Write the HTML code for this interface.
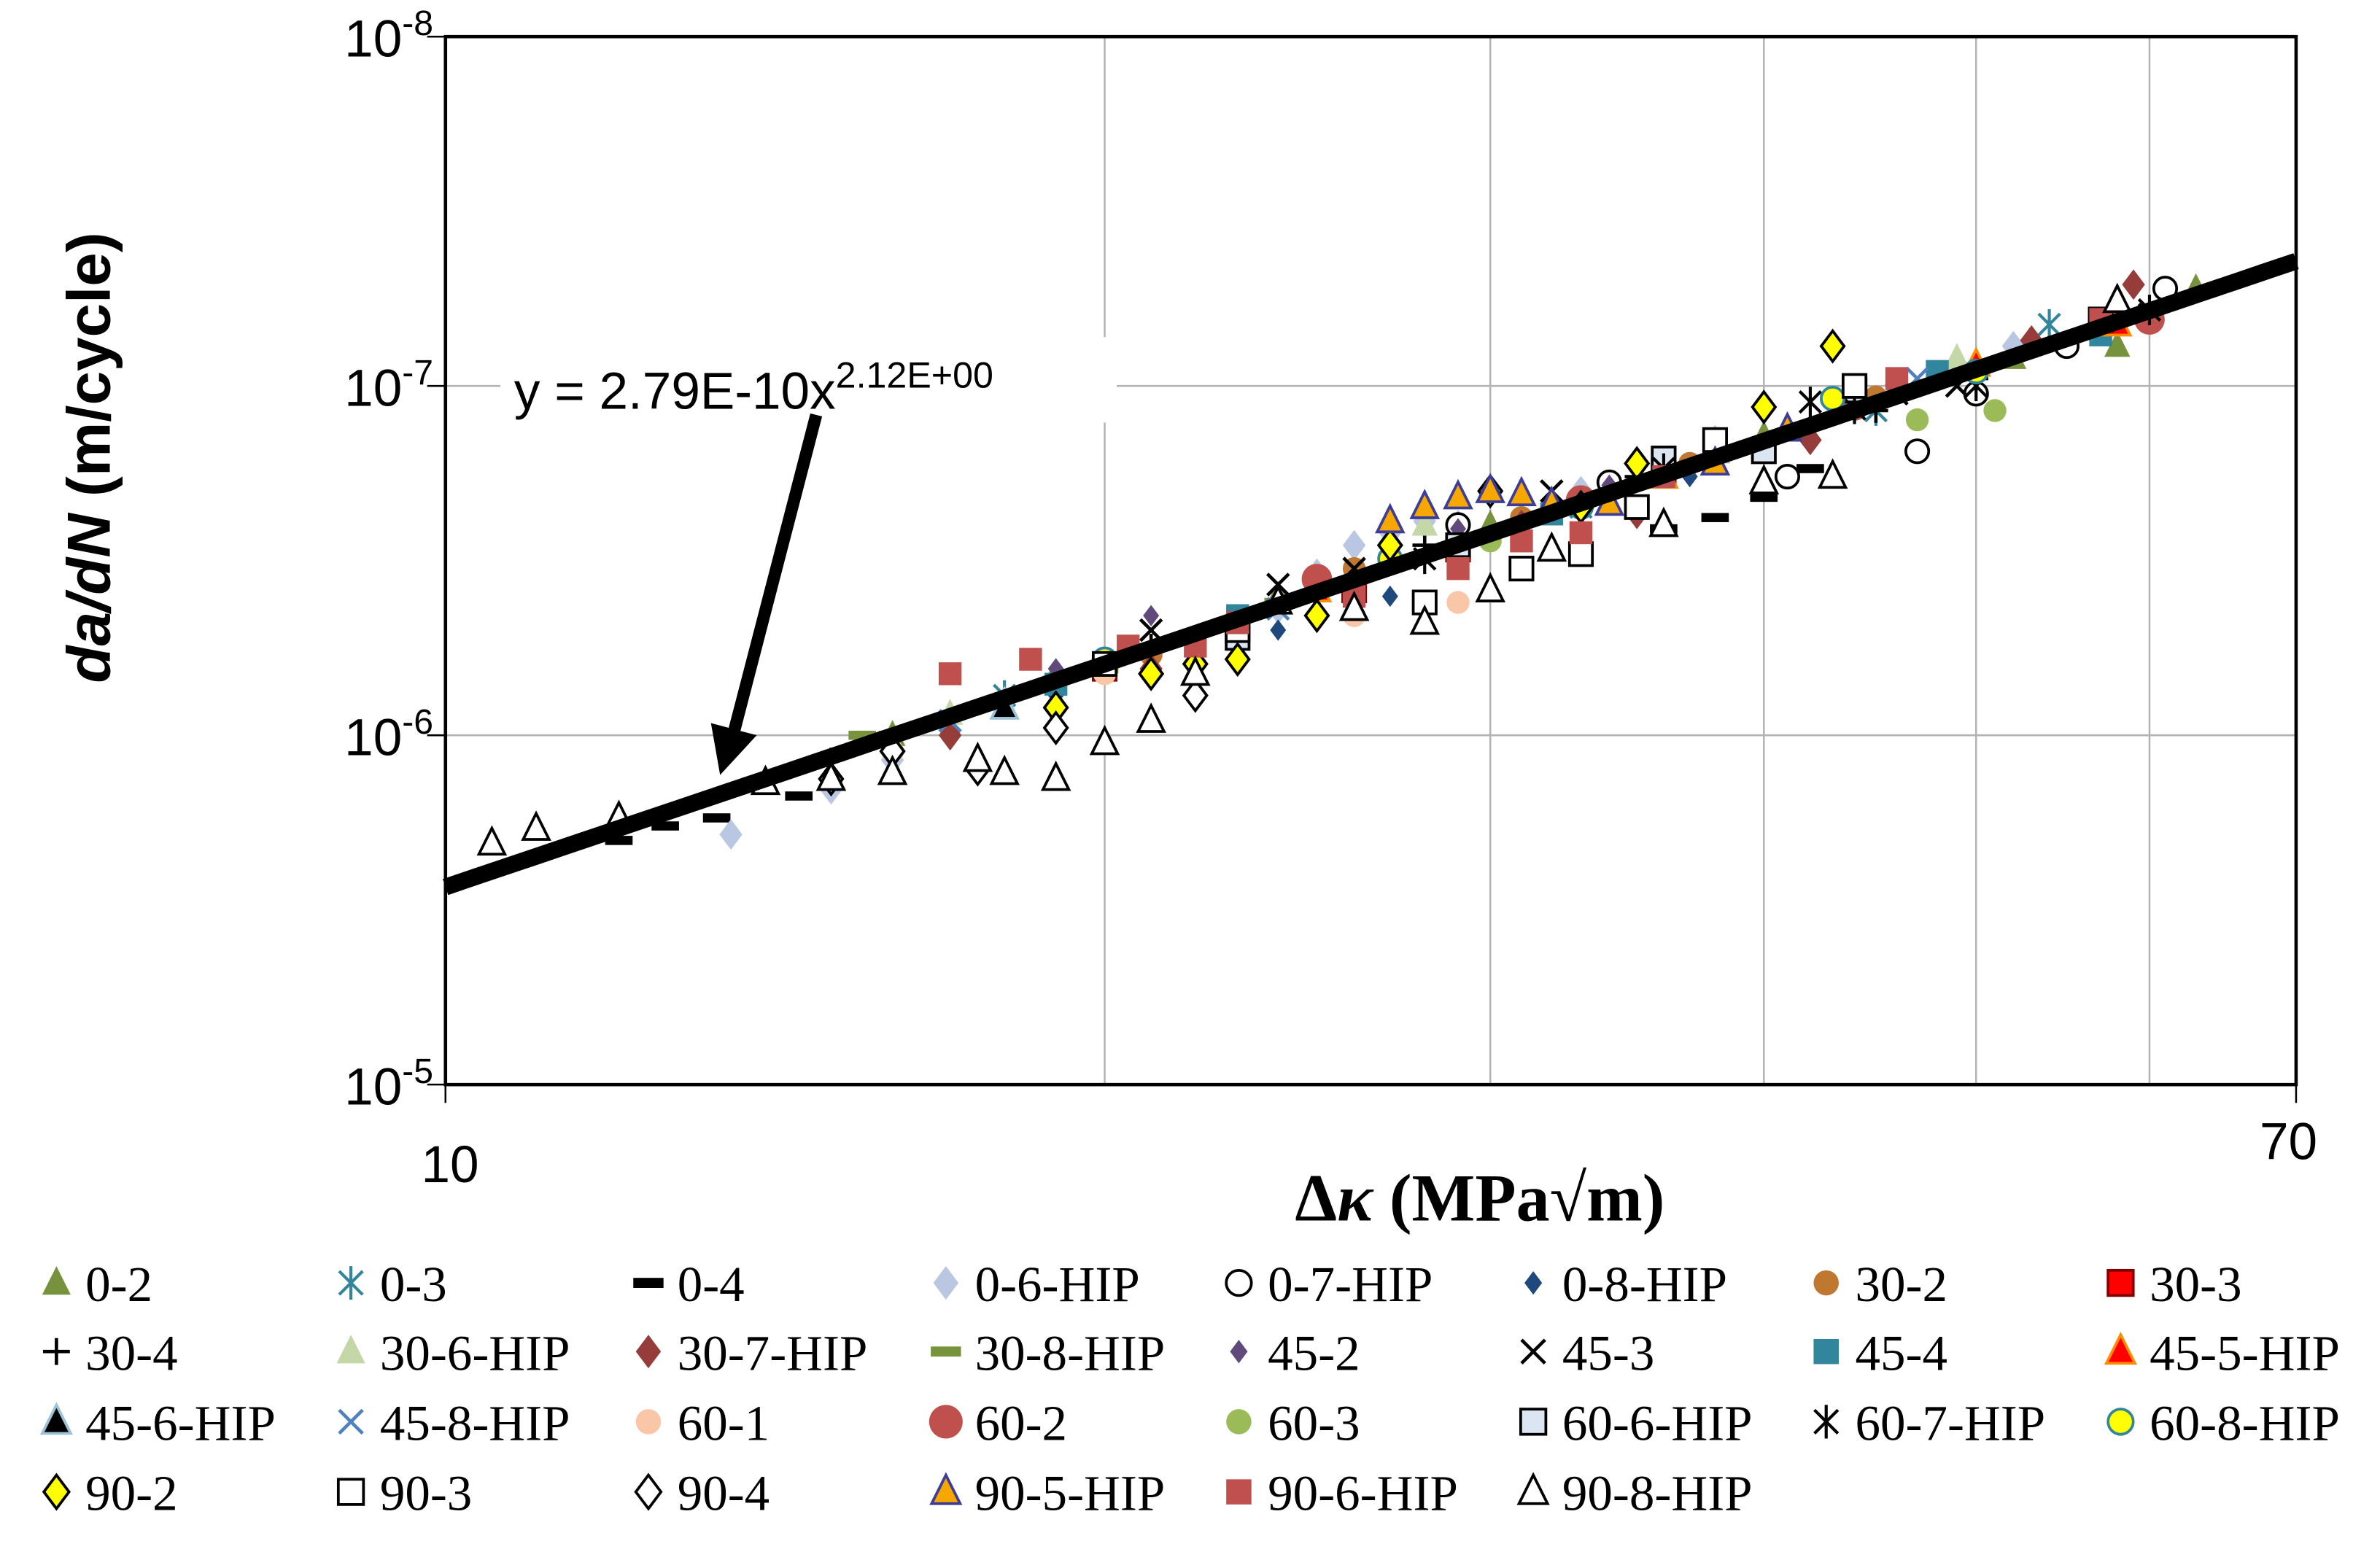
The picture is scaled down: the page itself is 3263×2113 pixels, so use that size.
<!DOCTYPE html>
<html><head><meta charset="utf-8"><style>
html,body{margin:0;padding:0;background:#fff;}
svg{display:block;}
</style></head><body>
<svg id="chart" xmlns="http://www.w3.org/2000/svg" width="3263" height="2113" viewBox="0 0 1560 1010.2">
<rect x="0" y="0" width="1560" height="1010.2" fill="#fff"/>
<g id="grid"></g>
<g id="marks"></g>
<g id="fit"></g>
<rect x="292" y="24" width="1213" height="687" fill="none" stroke="#000" stroke-width="2.2"/>
<g id="ticks"></g>
<g>
<rect x="328" y="221" width="404" height="56" fill="#fff"/>
<text x="337" y="268" font-family="Liberation Sans, sans-serif" font-size="34">y = 2.79E-10x<tspan dy="-14" font-size="24">2.12E+00</tspan></text>
<line x1="535" y1="272" x2="481" y2="480" stroke="#000" stroke-width="8"/>
<polygon points="466,474 496,482 472,508" fill="#000"/>
</g>
<text transform="translate(72,300) rotate(-90)" text-anchor="middle" font-family="Liberation Sans, sans-serif" font-weight="bold" font-size="40"><tspan font-style="italic">da/dN</tspan> (m/cycle)</text>
<text x="970" y="800" text-anchor="middle" font-family="Liberation Serif, serif" font-weight="bold" font-size="44">Δ<tspan font-style="italic">κ</tspan> (MPa√m)</text>
<g id="legend"></g>
</svg>
<script>
const xTickValues=[10,70];
const yTickValues=[1e-8,1e-7,1e-6,1e-5];
const yTickLabels=["-5","-6","-7","-8"];
const gridX=[20,30,40,50,60];
const fitA=2.79e-10, fitB=2.12;
const seriesNames=["0-2","0-3","0-4","0-6-HIP","0-7-HIP","0-8-HIP","30-2","30-3","30-4","30-6-HIP","30-7-HIP","30-8-HIP","45-2","45-3","45-4","45-5-HIP","45-6-HIP","45-8-HIP","60-1","60-2","60-3","60-6-HIP","60-7-HIP","60-8-HIP","90-2","90-3","90-4","90-5-HIP","90-6-HIP","90-8-HIP"];
const seriesX=[
[16,19,24,30,40,52,58,63],
[18,23,33,45,54],
[12,12.6,13.3,14.5,36,38,40,42],
[13.5,15,16,17,18,19,20,21,22,23,24,25,26,27,28,29,33,38,44,52],
[20,25,29,34,41,47,50,55,61],
[19,22,24,27,32,37,42,50],
[21,26,31,37,45],
[20,26,29,36,44],
[15,21,28,35,45,50],
[17,28,40,46,49],
[17,21,25,31,35,42,53,59],
[15.5,16,20,24],
[19,21,25,29,34],
[21,24,26,32,38,46,49,60],
[19,23,32,48,57],
[25,36,50,58],
[18,27,38,46],
[17,24,34,47],
[16,20,26,29],
[25,33,44,60],
[22,30,47,51],
[23,29,36,40,44,57],
[28,36,42,44,50,60],
[20,27,33,43,50],
[15,16,19,21,22,23,25,27,30,33,35,40,43],
[20,23,28,31,33,35,38,44],
[15,16,17.5,19,22],
[27,28,29,30,31,32,34,38,41],
[17,18.5,20.5,22,23,26,29,31,33,36,46,57],
[10.5,11,12,14,15,16,17.5,18,19,20,21,22,24,26,28,30,32,36,40,43,58]];
const seriesY=[
[1.0e-7,1.5e-7,2.5e-7,4.0e-7,7.2e-7,1.2e-6,1.3e-6,1.9e-6],
[1.3e-7,2.1e-7,4.5e-7,8.5e-7,1.5e-6],
[5e-8,5.5e-8,5.8e-8,6.7e-8,3.9e-7,4.2e-7,4.8e-7,5.8e-7],
[5.2e-8,7e-8,8.5e-8,1e-7,1.25e-7,1.4e-7,1.6e-7,1.5e-7,1.8e-7,2.0e-7,2.3e-7,2.9e-7,3.5e-7,3.8e-7,4.1e-7,4.0e-7,5.0e-7,7e-7,9.5e-7,1.3e-6],
[1.6e-7,2.6e-7,4e-7,5.3e-7,5.5e-7,6.5e-7,9.5e-7,1.3e-6,1.9e-6],
[1.3e-7,1.3e-7,2.0e-7,2.5e-7,4.5e-7,5.5e-7,7.5e-7,1.1e-6],
[1.7e-7,3.0e-7,4.2e-7,6.0e-7,9.3e-7],
[1.55e-7,2.6e-7,3.4e-7,5.7e-7,9e-7],
[8.5e-8,1.8e-7,3.5e-7,5.5e-7,8.5e-7,1.05e-6],
[1.15e-7,4e-7,6.5e-7,1.0e-6,1.2e-6],
[1e-7,1.55e-7,2.7e-7,4.0e-7,4.3e-7,7.0e-7,1.35e-6,1.95e-6],
[1.0e-7,1.0e-7,1.55e-7,2.4e-7],
[1.55e-7,2.2e-7,2.6e-7,3.9e-7,5.2e-7],
[2.0e-7,2.7e-7,3.0e-7,5.0e-7,6.7e-7,9.5e-7,1.0e-6,1.6e-6],
[1.4e-7,2.2e-7,4.3e-7,1.1e-6,1.4e-6],
[2.6e-7,5.5e-7,1.15e-6,1.5e-6],
[1.2e-7,3.2e-7,6.5e-7,1.0e-6],
[1.1e-7,2.3e-7,4.6e-7,1.05e-6],
[9e-8,1.5e-7,2.2e-7,2.4e-7],
[2.8e-7,4.7e-7,8.8e-7,1.55e-6],
[1.9e-7,3.6e-7,8.0e-7,8.5e-7],
[1.9e-7,3.5e-7,6.2e-7,6.5e-7,9.7e-7,1.55e-6],
[3.2e-7,5.8e-7,9e-7,8.6e-7,1.0e-6,1.65e-6],
[1.65e-7,3.2e-7,4.5e-7,9.2e-7,1.1e-6],
[7.5e-8,9e-8,1.2e-7,1.5e-7,1.6e-7,1.65e-7,2.2e-7,3.5e-7,5.0e-7,4.5e-7,6.0e-7,8.7e-7,1.3e-6],
[1.6e-7,2.0e-7,2.4e-7,3.0e-7,3.3e-7,4.5e-7,7e-7,1.0e-6],
[7.5e-8,9e-8,8e-8,1.05e-7,1.3e-7],
[4.1e-7,4.5e-7,4.8e-7,5.0e-7,4.9e-7,4.6e-7,4.6e-7,6.0e-7,7.5e-7],
[1.5e-7,1.65e-7,1.8e-7,1.8e-7,2.1e-7,2.5e-7,3.0e-7,3.6e-7,3.8e-7,5.5e-7,1.05e-6,1.55e-6],
[4.9e-8,5.4e-8,5.8e-8,7.3e-8,7.5e-8,7.8e-8,8.5e-8,7.8e-8,7.5e-8,9.5e-8,1.1e-7,1.5e-7,2.4e-7,2.3e-7,2.1e-7,2.6e-7,3.4e-7,4.0e-7,5.3e-7,5.5e-7,1.75e-6]];
const seriesStyle=[
["tri","#76923c","none"],["ast","#31859c","none"],["dash","#000","none"],["dia","#b9c7e3","none"],["circ","#fff","#000"],["sdia","#1f497d","none"],
["circ","#c0772f","none"],["sq","#ff0000","#800000"],["plus","#000","none"],["tri","#c4d7a7","none"],["dia","#963c3a","none"],["dash","#77933c","none"],
["sdia","#604a7b","none"],["x","#000","none"],["sq","#31859c","none"],["tri","#ff0000","#ff8c00"],["tri","#000","#9cc3d5"],["x","#4f81bd","none"],
["circ","#fac6a8","none"],["bcirc","#c0504d","none"],["circ","#9bbb59","none"],["sq","#dce6f2","#000"],["ast","#000","none"],["circ","#ffff00","#31859c"],
["dia","#ffff00","#000"],["sq","#fff","#000"],["dia","#fff","#000"],["tri","#f6a800","#3d3d99"],["sq","#c0504d","none"],["tri","#fff","#000"]];

const NS="http://www.w3.org/2000/svg";
const L=292,R=1505,B=711,T=24;
function xPx(v){return L+(R-L)*Math.log(v/10)/Math.log(7);}
function yPx(v){return B-(B-T)*(Math.log10(v)+8)/3;}
function mk(tag,attrs,parent){const e=document.createElementNS(NS,tag);for(const k in attrs)e.setAttribute(k,attrs[k]);parent.appendChild(e);return e;}

const grid=document.getElementById('grid');
gridX.forEach(v=>{const l=mk('line',{x1:xPx(v),x2:xPx(v),y1:T,y2:B,stroke:'#b3b3b3','stroke-width':1.2},grid);

});
yTickValues.forEach(v=>{const l=mk('line',{x1:L,x2:R,y1:yPx(v),y2:yPx(v),stroke:'#b3b3b3','stroke-width':1.2},grid);

});

const ticks=document.getElementById('ticks');
yTickValues.forEach((v,i)=>{const y=yPx(v);
mk('line',{x1:L-12,x2:L,y1:y,y2:y,stroke:'#000','stroke-width':1.2},ticks);
const t=mk('text',{x:L-8,y:y+13,'text-anchor':'end','font-family':'Liberation Sans, sans-serif','font-size':34},ticks);


t.innerHTML='10<tspan dy="-14" font-size="23">'+yTickLabels[i]+'</tspan>';});
xTickValues.forEach((v,i)=>{const x=xPx(v);
mk('line',{x1:x,x2:x,y1:B,y2:B+12,stroke:'#000','stroke-width':1.2},ticks);
const t=mk('text',{x:i==0?x+3:x-5,y:i==0?775:760,'text-anchor':'middle','font-family':'Liberation Sans, sans-serif','font-size':34},ticks);


t.textContent=String(v);});

function marker(p,st,x,y,s){
const [shape,fill,stroke]=st;const sw=stroke==='none'?0:1.8;const a={fill:fill,stroke:stroke,'stroke-width':sw};let e;
if(shape==='tri'){a.points=`${x},${y-s} ${x-s*0.85},${y+s*0.7} ${x+s*0.85},${y+s*0.7}`;e=mk('polygon',a,p);}
else if(shape==='dia'){a.points=`${x},${y-s} ${x-s*0.75},${y} ${x},${y+s} ${x+s*0.75},${y}`;e=mk('polygon',a,p);}
else if(shape==='sdia'){const q=s*0.7;a.points=`${x},${y-q} ${x-q*0.75},${y} ${x},${y+q} ${x+q*0.75},${y}`;e=mk('polygon',a,p);}
else if(shape==='circ'){a.cx=x;a.cy=y;a.r=s*0.75;e=mk('circle',a,p);}
else if(shape==='bcirc'){a.cx=x;a.cy=y;a.r=s;e=mk('circle',a,p);}
else if(shape==='sq'){a.x=x-s*0.75;a.y=y-s*0.75;a.width=s*1.5;a.height=s*1.5;e=mk('rect',a,p);}
else if(shape==='dash'){e=mk('rect',{x:x-s*0.9,y:y-s*0.3,width:s*1.8,height:s*0.6,fill:fill},p);}
else if(shape==='plus'){e=mk('path',{d:`M${x-s*0.8},${y}H${x+s*0.8}M${x},${y-s*0.8}V${y+s*0.8}`,stroke:fill,'stroke-width':2.2,fill:'none'},p);}
else if(shape==='x'){const q=s*0.7;e=mk('path',{d:`M${x-q},${y-q}L${x+q},${y+q}M${x-q},${y+q}L${x+q},${y-q}`,stroke:fill,'stroke-width':2.2,fill:'none'},p);}
else if(shape==='ast'){const q=s*0.7;e=mk('path',{d:`M${x-q},${y-q}L${x+q},${y+q}M${x-q},${y+q}L${x+q},${y-q}M${x},${y-s}V${y+s}`,stroke:fill,'stroke-width':2,fill:'none'},p);}
return e;}

const marks=document.getElementById('marks');
seriesNames.forEach((n,si)=>{const g=mk('g',{},marks);


seriesX[si].forEach((xv,j)=>{const m=marker(g,seriesStyle[si],xPx(xv),yPx(seriesY[si][j]),10);

});});

const fit=document.getElementById('fit');
let d='';for(let k=0;k<=60;k++){const xv=10*Math.pow(7,k/60);d+=(k?'L':'M')+xPx(xv).toFixed(1)+','+yPx(fitA*Math.pow(xv,fitB)).toFixed(1);}
const fl=mk('path',{d:d,stroke:'#000','stroke-width':11,fill:'none'},fit);



const legend=document.getElementById('legend');
const colX=[37,230,425,620,812,1005,1197,1390];
const rowY=[841,886,932,978];
seriesNames.forEach((n,si)=>{const c=si%8,r=Math.floor(si/8);
const g=mk('g',{},legend);


marker(g,seriesStyle[si],colX[c],rowY[r],11);
const t=mk('text',{x:colX[c]+19,y:rowY[r]+12,'font-family':'Liberation Serif, serif','font-size':33},g);
t.textContent=n;});
</script>
</body></html>
